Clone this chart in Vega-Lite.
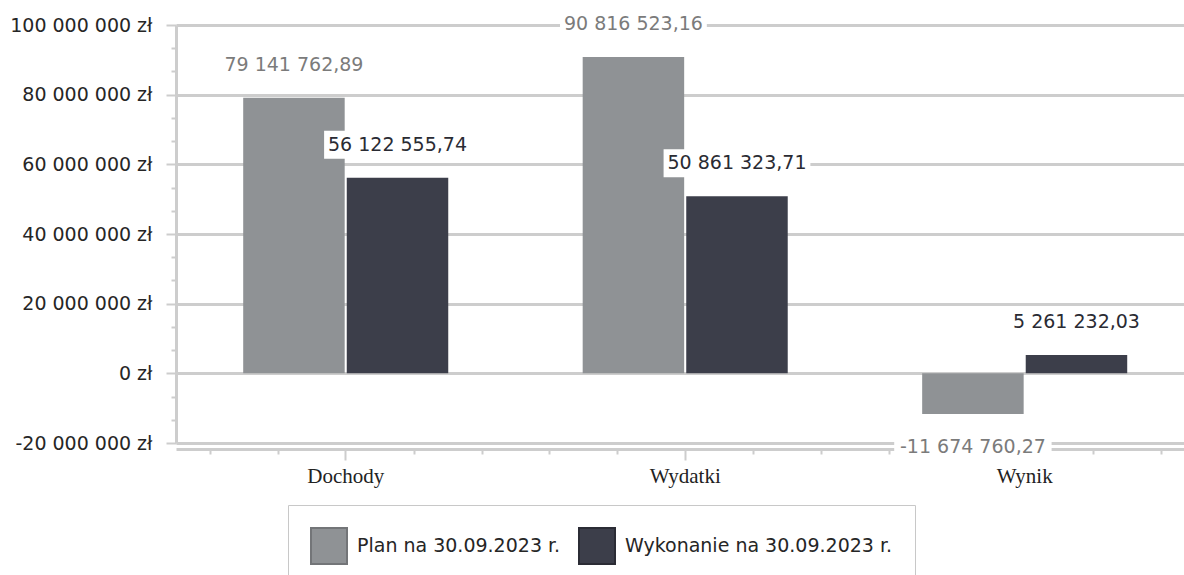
{
  "$schema": "https://vega.github.io/schema/vega-lite/v6.json",
  "width": 1008,
  "height": 418,
  "autosize": {"type": "none"},
  "padding": {"left": 176, "top": 25, "right": 0, "bottom": 132},
  "background": "white",
  "config": {
    "locale": {"number": {"decimal": ",", "thousands": " ", "grouping": [3], "currency": ["", " zł"], "minus": "-"}},
    "view": {"stroke": null},
    "font": "DejaVu Sans"
  },
  "data": {
    "values": [
      {"kategoria": "Dochody", "seria": "Plan na 30.09.2023 r.", "wartosc": 79141762.89},
      {"kategoria": "Dochody", "seria": "Wykonanie na 30.09.2023 r.", "wartosc": 56122555.74},
      {"kategoria": "Wydatki", "seria": "Plan na 30.09.2023 r.", "wartosc": 90816523.16},
      {"kategoria": "Wydatki", "seria": "Wykonanie na 30.09.2023 r.", "wartosc": 50861323.71},
      {"kategoria": "Wynik", "seria": "Plan na 30.09.2023 r.", "wartosc": -11674760.27},
      {"kategoria": "Wynik", "seria": "Wykonanie na 30.09.2023 r.", "wartosc": 5261232.03}
    ]
  },
  "layer": [
    {
      "encoding": {
        "x": {
          "field": "kategoria", "type": "nominal", "sort": ["Dochody", "Wydatki", "Wynik"],
          "scale": {"paddingInner": 0.396, "paddingOuter": 0.1826, "align": 0.542},
          "axis": {"title": null, "labelFont": "Liberation Serif", "labelFontSize": 21, "labelColor": "#222222", "labelAngle": 0, "tickSize": 11, "tickWidth": 2, "tickColor": "#cdcdcd", "domainColor": "#cdcdcd", "domainWidth": 3, "offset": 6, "labelPadding": 5, "grid": false}
        },
        "xOffset": {"field": "seria", "type": "nominal", "scale": {"paddingInner": 0.02, "paddingOuter": 0}},
        "y": {
          "field": "wartosc", "type": "quantitative",
          "scale": {"domain": [-20000000, 100000000], "nice": false, "zero": false},
          "axis": {
            "title": null,
            "values": [-20000000, -13333333.33, -6666666.67, 0, 6666666.67, 13333333.33, 20000000, 26666666.67, 33333333.33, 40000000, 46666666.67, 53333333.33, 60000000, 66666666.67, 73333333.33, 80000000, 86666666.67, 93333333.33, 100000000],
            "format": "$,.0f",
            "labelExpr": "abs(datum.value % 20000000) < 1 ? datum.label : ''",
            "labelOverlap": false,
            "labelFontSize": 19,
            "labelColor": "#262626",
            "labelPadding": 14,
            "tickSize": {"condition": {"test": "abs(datum.value % 20000000) < 1", "value": 10}, "value": 5},
            "tickWidth": 2,
            "tickColor": "#cdcdcd",
            "domainColor": "#cdcdcd",
            "domainWidth": 3,
            "grid": true,
            "gridColor": "#cdcdcd",
            "gridWidth": 3,
            "gridOpacity": {"condition": {"test": "abs(datum.value % 20000000) < 1", "value": 1}, "value": 0}
          }
        }
      },
      "layer": [
        {
          "mark": {"type": "bar", "strokeWidth": 0},
          "encoding": {
            "color": {
              "field": "seria", "type": "nominal",
              "scale": {"domain": ["Plan na 30.09.2023 r.", "Wykonanie na 30.09.2023 r."], "range": ["#8f9295", "#3c3e4a"]},
              "legend": {"orient": "none", "legendX": 112, "legendY": 480, "direction": "horizontal", "title": null, "symbolType": "square", "symbolSize": 1296, "symbolStrokeWidth": 2, "labelFontSize": 19, "labelFont": "DejaVu Sans", "labelColor": "#262626", "labelOffset": 9, "labelLimit": 0, "columnPadding": 14, "padding": 22, "strokeColor": "#c8c8c8", "fillColor": "white", "symbolOpacity": 1}
            },
            "stroke": {
              "field": "seria", "type": "nominal",
              "scale": {"domain": ["Plan na 30.09.2023 r.", "Wykonanie na 30.09.2023 r."], "range": ["#737578", "#2b2c35"]},
              "legend": {"orient": "none", "legendX": 112, "legendY": 480, "direction": "horizontal", "title": null, "symbolType": "square", "symbolSize": 1296, "symbolStrokeWidth": 2, "labelFontSize": 19, "labelFont": "DejaVu Sans", "labelColor": "#262626", "labelOffset": 9, "labelLimit": 0, "columnPadding": 14, "padding": 22, "strokeColor": "#c8c8c8", "fillColor": "white", "symbolOpacity": 1}
            }
          }
        },
        {
          "mark": {
            "type": "point", "filled": true, "color": "white", "fill": "white", "opacity": 1, "strokeWidth": 0, "size": 40000,
            "shape": {"expr": "'M' + (-(10.6*length(format(datum.wartosc, ',.2f'))+9)/200) + ',-0.14L' + ((10.6*length(format(datum.wartosc, ',.2f'))+9)/200) + ',-0.14L' + ((10.6*length(format(datum.wartosc, ',.2f'))+9)/200) + ',0.14L' + (-(10.6*length(format(datum.wartosc, ',.2f'))+9)/200) + ',0.14Z'"},
            "yOffset": {"expr": "datum.wartosc < 0 ? 33 : -33"}
          }
        },
        {
          "mark": {
            "type": "text", "fontSize": 19, "font": "DejaVu Sans", "baseline": "middle", "align": "center",
            "yOffset": {"expr": "datum.wartosc < 0 ? 33 : -33"}
          },
          "encoding": {
            "text": {"field": "wartosc", "type": "quantitative", "format": ",.2f"},
            "color": {"condition": {"test": "datum.seria == 'Plan na 30.09.2023 r.'", "value": "#7b7b7b"}, "value": "#2a2b33"}
          }
        }
      ]
    },
    {
      "mark": {"type": "point", "opacity": 0},
      "encoding": {
        "x": {
          "datum": 0, "type": "quantitative",
          "scale": {"domain": [0, 2.9692], "nice": false, "zero": false},
          "axis": {"orient": "bottom", "title": null, "values": [0.1, 0.3, 0.7, 0.9, 1.1, 1.3, 1.7, 1.9, 2.1, 2.3, 2.7, 2.9], "labels": false, "domain": false, "grid": false, "ticks": true, "tickSize": 5, "tickWidth": 2, "tickColor": "#cdcdcd", "offset": 6}
        }
      }
    }
  ],
  "resolve": {"scale": {"x": "independent"}}
}
